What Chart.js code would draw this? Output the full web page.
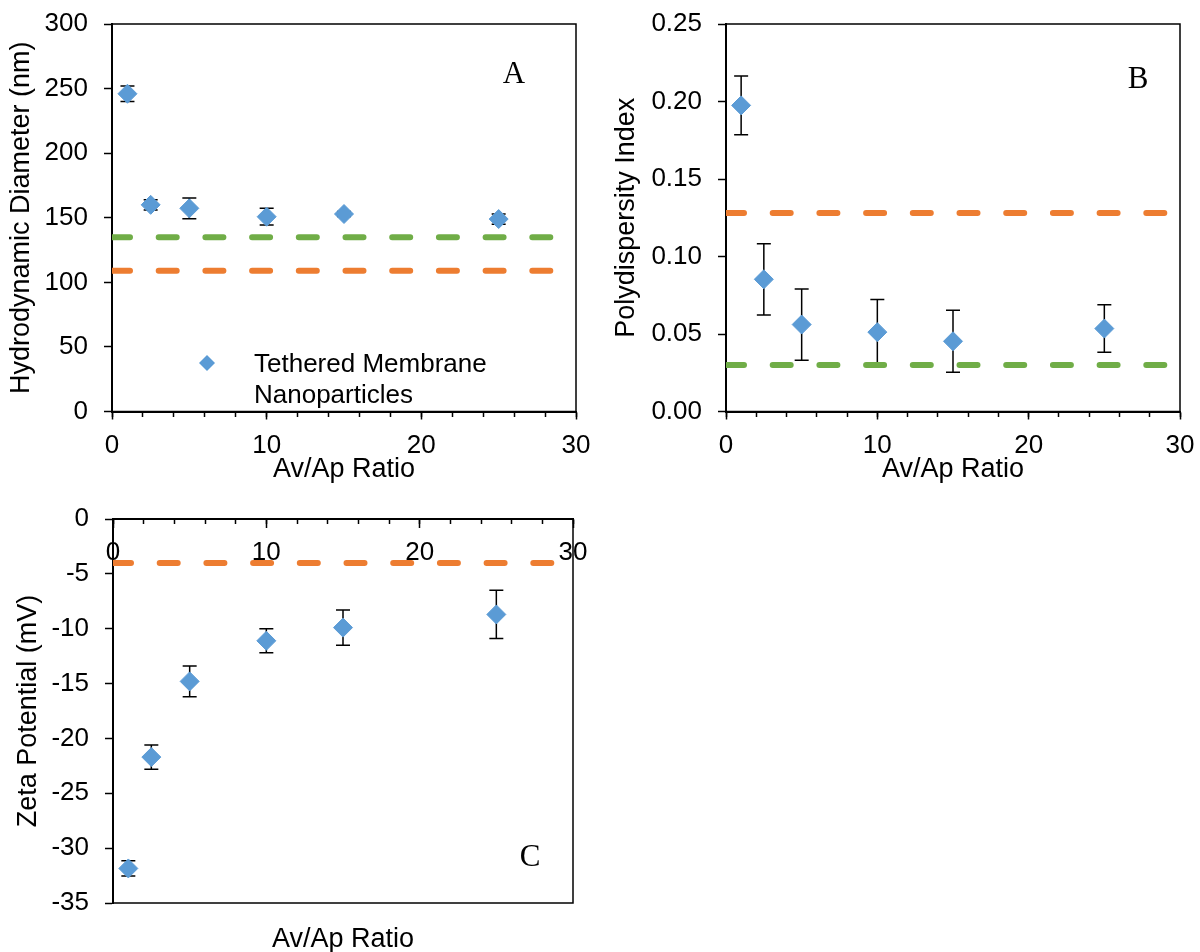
<!DOCTYPE html>
<html><head><meta charset="utf-8">
<script src="https://cdn.jsdelivr.net/npm/chart.js@4/dist/chart.umd.min.js"></script>
<style>
html,body{margin:0;padding:0;background:#fff;}
#wrap{position:relative;width:1200px;height:952px;background:#fff;}
canvas{position:absolute;left:0;top:0;}
</style></head><body>
<div id="wrap">
<canvas id="cA" width="1200" height="952"></canvas>
<canvas id="cB" width="1200" height="952"></canvas>
<canvas id="cC" width="1200" height="952"></canvas>
</div>
<script>
// ---- data ----
const ratios = [1, 2.5, 5, 10, 15, 25];
const diameter = [246, 160, 157.3, 150.8, 152.9, 149];
const diameterErr = [6, 4, 8, 6.5, 2, 4];
const pdi = [0.1975, 0.0853, 0.0561, 0.0512, 0.0453, 0.0535];
const pdiErr = [0.019, 0.023, 0.023, 0.021, 0.020, 0.0153];
const zeta = [-31.85, -21.7, -14.8, -11.1, -9.9, -8.7];
const zetaErr = [0.7, 1.1, 1.4, 1.1, 1.6, 2.2];
const diameterRefGreen = [135];
const diameterRefOrange = [109];
const pdiRefGreen = [0.03];
const pdiRefOrange = [0.128];
const zetaRefOrange = [-4];
const xRange = [0, 30];
const xTitle = 'Av/Ap Ratio';
const yTitles = ['Hydrodynamic Diameter (nm)', 'Polydispersity Index', 'Zeta Potential (mV)'];
const panelLetters = ['A', 'B', 'C'];
const seriesName = ['Tethered Membrane', 'Nanoparticles'];

// ---- styles ----
const BLUE = '#5B9BD5', ORANGE = '#ED7D31', GREEN = '#70AD47';
const FONT = '"Liberation Sans", Arial, sans-serif';
const FS = 26, TFS = 27, HALF = TFS * 1.2 / 2;
Chart.defaults.font.family = FONT;
Chart.defaults.font.size = FS;
Chart.defaults.color = '#000';

const errorBarPlugin = {
  id: 'errorBars',
  beforeDatasetsDraw(chart, args, opts) {
    const {ctx} = chart; const xs = chart.scales.x, ys = chart.scales.y;
    ctx.save();
    ctx.strokeStyle = '#000'; ctx.lineWidth = 1.5;
    opts.values.forEach((v, i) => {
      const px = xs.getPixelForValue(ratios[i]);
      const y1 = ys.getPixelForValue(v + opts.errors[i]);
      const y2 = ys.getPixelForValue(v - opts.errors[i]);
      ctx.beginPath();
      ctx.moveTo(px, y1); ctx.lineTo(px, y2);
      ctx.moveTo(px - 7, y1); ctx.lineTo(px + 7, y1);
      ctx.moveTo(px - 7, y2); ctx.lineTo(px + 7, y2);
      ctx.stroke();
    });
    ctx.restore();
  }
};
const framePlugin = {
  id: 'frame',
  beforeDatasetsDraw(chart) {
    const {ctx, chartArea: a} = chart;
    ctx.save(); ctx.strokeStyle = '#000'; ctx.lineWidth = 1.5;
    ctx.strokeRect(a.left, a.top, a.right - a.left, a.bottom - a.top);
    ctx.restore();
  }
};
const annotPlugin = {
  id: 'annot',
  afterDraw(chart, args, opts) {
    const {ctx, chartArea: a} = chart;
    ctx.save();
    ctx.fillStyle = '#000';
    ctx.font = '31px "Liberation Serif", "Times New Roman", serif';
    ctx.textAlign = 'center'; ctx.textBaseline = 'middle';
    ctx.fillText(opts.letter, a.left + opts.letterDx, a.top + opts.letterDy);
    if (opts.legend) {
      const lx = a.left + 95, ly = a.top + 339;
      ctx.fillStyle = BLUE;
      ctx.beginPath(); ctx.moveTo(lx, ly - 8); ctx.lineTo(lx + 8, ly); ctx.lineTo(lx, ly + 8); ctx.lineTo(lx - 8, ly); ctx.closePath(); ctx.fill();
      ctx.fillStyle = '#000';
      ctx.font = FS + 'px ' + FONT;
      ctx.textAlign = 'left';
      seriesName.forEach((t, i) => ctx.fillText(t, a.left + 142, ly + 2 + i * 31));
    }
    ctx.restore();
  }
};

function refDataset(yv, color) {
  return {type: 'line', data: [{x: xRange[0], y: yv}, {x: xRange[1], y: yv}], borderColor: color,
    borderWidth: 6, borderDash: [18, 28.7], borderCapStyle: 'round', pointRadius: 0, clip: 0, order: 0};
}

function makeChart(id, s) {
  const padLeft = s.yTitleX - HALF;
  const scales = {
    y: {type: 'linear', position: 'left', min: s.yMin, max: s.yMax,
      ticks: {stepSize: s.yStep, padding: 16, callback: s.yFmt, font: {size: FS}},
      grid: {drawOnChartArea: false, drawTicks: true, tickLength: 8, tickColor: '#000', tickWidth: 1.5},
      border: {display: true, color: '#000', width: 2},
      title: {display: true, text: s.yTitle, font: {size: TFS}, padding: 0},
      afterFit: sc => { sc.width = s.plot.l - padLeft; sc.paddingTop = 0; sc.paddingBottom = 0; }
    },
    xMinor: {type: 'linear', position: {y: s.xAt}, min: xRange[0], max: xRange[1],
      ticks: {display: false, stepSize: 2, autoSkip: false},
      grid: {drawOnChartArea: false, drawTicks: true, tickLength: 5, tickColor: '#000', tickWidth: 1.5},
      border: {display: false}
    }
  };
  let padBottom;
  if (s.xTop) {
    scales.x = {type: 'linear', position: {y: s.xAt}, min: xRange[0], max: xRange[1],
      ticks: {stepSize: 10, padding: 10, autoSkip: false, maxRotation: 0, font: {size: FS}},
      grid: {drawOnChartArea: false, drawTicks: true, tickLength: 8, tickColor: '#000', tickWidth: 1.5},
      border: {display: true, color: '#000', width: 2}
    };
    scales.xt = {type: 'linear', position: 'bottom', min: xRange[0], max: xRange[1],
      ticks: {display: false}, grid: {display: false}, border: {display: false},
      title: {display: true, text: xTitle, font: {size: TFS}, padding: {top: 0, bottom: s.xTitlePadB}},
      afterFit: sc => { sc.height = 952 - s.plot.b; sc.paddingLeft = 0; sc.paddingRight = 0; }
    };
    padBottom = 0;
  } else {
    const boxBottom = s.xTitleY + HALF;
    scales.x = {type: 'linear', position: 'bottom', min: xRange[0], max: xRange[1],
      ticks: {stepSize: 10, padding: 11, autoSkip: false, maxRotation: 0, font: {size: FS}},
      grid: {drawOnChartArea: false, drawTicks: true, tickLength: 8, tickColor: '#000', tickWidth: 1.5},
      border: {display: true, color: '#000', width: 2},
      title: {display: true, text: xTitle, font: {size: TFS}, padding: 0},
      afterFit: sc => { sc.height = boxBottom - s.plot.b; sc.paddingLeft = 0; sc.paddingRight = 0; }
    };
    padBottom = 952 - boxBottom;
  }
  const datasets = [{
    type: 'scatter', label: seriesName.join(' '),
    data: s.values.map((v, i) => ({x: ratios[i], y: v})),
    pointStyle: 'rectRot', pointRadius: 9.5, backgroundColor: BLUE, borderColor: BLUE, borderWidth: 1, order: 1
  }];
  s.refs.forEach(r => datasets.push(refDataset(r[0], r[1])));
  return new Chart(document.getElementById(id), {
    data: {datasets},
    options: {
      responsive: false, animation: false, devicePixelRatio: 1, events: [],
      layout: {padding: {left: padLeft, top: s.plot.t, right: 1200 - s.plot.r, bottom: padBottom}},
      scales,
      plugins: {legend: {display: false}, tooltip: {enabled: false},
        errorBars: {values: s.values, errors: s.errors},
        annot: {letter: s.letter, letterDx: s.letterDx, letterDy: s.letterDy, legend: !!s.legend}}
    },
    plugins: [framePlugin, errorBarPlugin, annotPlugin]
  });
}

makeChart('cA', {
  values: diameter, errors: diameterErr,
  refs: [[diameterRefGreen[0], GREEN], [diameterRefOrange[0], ORANGE]],
  yMin: 0, yMax: 300, yStep: 50, yFmt: v => String(v), yTitle: yTitles[0],
  plot: {l: 112, t: 24, r: 576, b: 411.5}, yTitleX: 22, xTitleY: 470, xAt: 0,
  letter: panelLetters[0], letterDx: 402, letterDy: 51, legend: true
});
makeChart('cB', {
  values: pdi, errors: pdiErr,
  refs: [[pdiRefOrange[0], ORANGE], [pdiRefGreen[0], GREEN]],
  yMin: 0, yMax: 0.25, yStep: 0.05, yFmt: v => v.toFixed(2), yTitle: yTitles[1],
  plot: {l: 726, t: 24, r: 1180, b: 411.5}, yTitleX: 627, xTitleY: 470, xAt: 0,
  letter: panelLetters[1], letterDx: 412, letterDy: 56
});
makeChart('cC', {
  values: zeta, errors: zetaErr,
  refs: [[zetaRefOrange[0], ORANGE]],
  yMin: -35, yMax: 0, yStep: 5, yFmt: v => String(v), yTitle: yTitles[2],
  plot: {l: 113, t: 519, r: 573, b: 903}, yTitleX: 29, xTop: true, xAt: 0, xTitlePadB: -4,
  letter: panelLetters[2], letterDx: 417, letterDy: 339
});
</script>
</body></html>
